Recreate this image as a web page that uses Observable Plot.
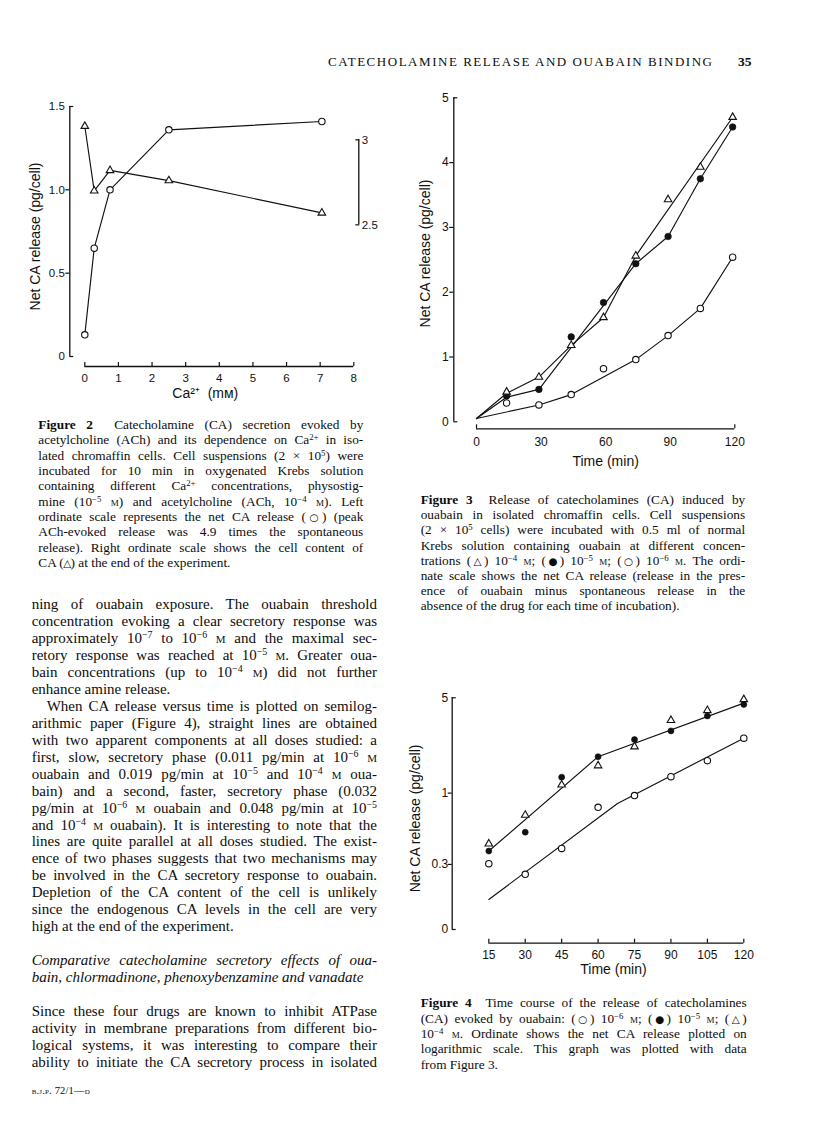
<!DOCTYPE html>
<html><head><meta charset="utf-8">
<script src="https://cdn.jsdelivr.net/npm/d3@7"></script>
<script src="https://cdn.jsdelivr.net/npm/@observablehq/plot@0.6"></script>
<style>
html,body{margin:0;padding:0;background:#fff;}
#page{position:relative;width:816px;height:1142px;overflow:hidden;background:#fff;color:#0d0d0d;font-family:"Liberation Serif","Times New Roman",serif;}
.ln{position:absolute;white-space:nowrap;}
.sc{font-variant:small-caps;}
.sym{font-family:"DejaVu Sans",sans-serif;font-size:0.78em;margin:0 -0.06em;}
sup{font-size:0.66em;line-height:0;vertical-align:0.48em;}
.fig{position:absolute;}
.fig svg{overflow:visible;}
</style></head><body><div id="page"></div>
<script>
// ---------------- Figure 2 data ----------------
const fig2Ca = [0, 0.28, 0.75, 2.5, 7.05];            // Ca2+ (mM)
const fig2Release = [0.13, 0.65, 1.0, 1.36, 1.41];     // net CA release, left scale (circles)
const fig2Content = [3.08, 2.70, 2.82, 2.76, 2.57];    // cell CA content, right scale (triangles)
const fig2XTicks = [0, 1, 2, 3, 4, 5, 6, 7, 8];
const fig2YTicks = [0, 0.5, 1.0, 1.5];
const fig2YLabels = ["0", "0.5", "1.0", "1.5"];
const fig2RightTicks = [2.5, 3];
const fig2RightLabels = ["2.5", "3"];
const fig2RightOnLeft = [0.79, 1.30];                  // left-scale level of the right ticks

// ---------------- Figure 3 data ----------------
const fig3Time = [14, 29, 44, 59, 74, 89, 104, 119];
const fig3Oua4 = [0.46, 0.69, 1.18, 1.61, 2.56, 3.43, 3.93, 4.70]; // 10^-4 M (triangles)
const fig3Oua5 = [0.40, 0.50, 1.31, 1.84, 2.44, 2.86, 3.75, 4.55]; // 10^-5 M (filled)
const fig3Oua6 = [0.29, 0.26, 0.42, 0.82, 0.96, 1.33, 1.75, 2.54]; // 10^-6 M (open)
const fig3Line4 = [[0, 0.05], [14, 0.44], [29, 0.69], [44, 1.18], [59, 1.61], [74, 2.56], [119, 4.70]];
const fig3Line5 = [[0, 0.05], [14, 0.38], [29, 0.50], [74, 2.44], [89, 2.86], [104, 3.75], [119, 4.55]];
const fig3Line6 = [[0, 0.05], [29, 0.26], [44, 0.42], [74, 0.96], [89, 1.33], [104, 1.75], [119, 2.54]];
const fig3XTicks = [0, 30, 60, 90, 120];
const fig3YTicks = [0, 1, 2, 3, 4, 5];

// ---------------- Figure 4 data ----------------
const fig4Time = [15, 30, 45, 60, 75, 90, 105, 120];
const fig4Oua4 = [0.425, 0.69, 1.15, 1.59, 2.19, 3.42, 4.04, 4.86];
const fig4Oua5 = [0.376, 0.517, 1.31, 1.85, 2.47, 2.86, 3.68, 4.47];
const fig4Oua6 = [0.304, 0.254, 0.393, 0.787, 0.96, 1.32, 1.73, 2.53];
const fig4LineHigh = [[15, 0.376], [60, 1.85], [120, 4.57]];
const fig4LineLow = [[15, 0.166], [68, 0.84], [120, 2.53]];
const fig4XTicks = [15, 30, 45, 60, 75, 90, 105, 120];
const fig4YTicks = [0.1, 0.3, 1, 5];
const fig4YLabels = ["0", "0.3", "1", "5"];

// ---------------- helpers ----------------
const page = document.getElementById("page");
const INK = "#111";
const SANS = '"Liberation Sans", Arial, Helvetica, sans-serif';
const chartStyle = {fontFamily: SANS, fontSize: "12px", color: INK, background: "transparent", overflow: "visible"};
const lab = (ticks, labels) => { const m = new Map(ticks.map((t, i) => [t, labels[i]])); return d => m.get(d) ?? String(d); };
const rows = (t, v) => t.map((x, i) => ({t: x, v: v[i]}));
const pairs = a => a.map(([t, v]) => ({t, v}));
const first = a => a[0], last = a => a[a.length - 1];
function place(svg, left, top) {
  const d = document.createElement("div");
  d.className = "fig"; d.style.left = left + "px"; d.style.top = top + "px";
  d.appendChild(svg); page.appendChild(d);
}
const openDot = {r: 3.2, fill: "white", stroke: INK, strokeWidth: 1.1};
const fullDot = {r: 3.3, fill: INK, stroke: INK, strokeWidth: 0.6};
const triDot = {symbol: "triangle", r: 2.8, fill: "white", stroke: INK, strokeWidth: 1.1};
const lineOpt = {stroke: INK, strokeWidth: 1.15};
const yTitle = (t, dx, dy) => Plot.text([t], {text: d => d, frameAnchor: "left", rotate: -90, textAnchor: "middle", lineAnchor: "middle", dx, dy, fontSize: 14});
const xTitle = (t, dx, dy) => Plot.text([t], {text: d => d, frameAnchor: "bottom", textAnchor: "middle", lineAnchor: "middle", dx, dy, fontSize: 14});

// y-axis built from Plot axis marks: outward middle ticks, inward end ticks, labels
function yAxis(ticks, labels, off, pad) {
  const ends = [first(ticks), last(ticks)];
  const mids = ticks.filter(t => !ends.includes(t));
  return [
    Plot.axisY({ticks: mids, tickSize: 4, dx: off, fill: "none", label: null, strokeWidth: 1.2}),
    Plot.axisY({ticks: ends, tickSize: -4, dx: off, fill: "none", label: null, strokeWidth: 1.2}),
    Plot.axisY({ticks, tickSize: 0, tickPadding: pad, dx: off, tickFormat: lab(ticks, labels), label: null})
  ];
}
function xAxis(ticks, tickMarks, off, pad) {
  return [
    Plot.axisX({ticks: tickMarks, tickSize: -4, dy: off, fill: "none", label: null, strokeWidth: 1.2}),
    Plot.axisX({ticks, tickSize: 0, tickPadding: pad, dy: off, label: null})
  ];
}

// ---------------- Figure 2 ----------------
const toLeft = d3.scaleLinear(fig2RightTicks, fig2RightOnLeft);
const fig2Rows = fig2Ca.map((ca, i) => ({ca, release: fig2Release[i], content: fig2Content[i]}));
const f2 = Plot.plot({
  width: 400, height: 320, marginLeft: 84.3, marginRight: 46.7, marginTop: 26, marginBottom: 44,
  x: {domain: [first(fig2XTicks), last(fig2XTicks)]},
  y: {domain: [first(fig2YTicks), last(fig2YTicks)]},
  style: {...chartStyle, fontSize: "11.5px"},
  marks: [
    Plot.ruleX([first(fig2XTicks)], {y1: first(fig2YTicks), y2: last(fig2YTicks), dx: -15, stroke: INK, strokeWidth: 1.3}),
    ...yAxis(fig2YTicks, fig2YLabels, -15, 5),
    Plot.ruleY([first(fig2YTicks)], {x1: first(fig2XTicks), x2: last(fig2XTicks), dy: 10, stroke: INK, strokeWidth: 1.3}),
    ...xAxis(fig2XTicks, fig2XTicks, 10, 7),
    // right ordinate (cell CA content)
    Plot.ruleX([last(fig2XTicks)], {y1: toLeft(first(fig2RightTicks)), y2: toLeft(last(fig2RightTicks)), dx: 5, stroke: INK, strokeWidth: 1.3}),
    Plot.axisY({anchor: "right", ticks: fig2RightTicks.map(toLeft), tickSize: -4, dx: 5, fill: "none", label: null, strokeWidth: 1.2}),
    Plot.axisY({anchor: "right", ticks: fig2RightTicks.map(toLeft), tickSize: 0, tickPadding: 3, dx: 5,
      tickFormat: lab(fig2RightTicks.map(toLeft), fig2RightLabels), label: null}),
    Plot.line(fig2Rows, {x: "ca", y: "release", ...lineOpt}),
    Plot.line(fig2Rows, {x: "ca", y: d => toLeft(d.content), ...lineOpt}),
    Plot.dot(fig2Rows, {x: "ca", y: "release", ...openDot}),
    Plot.dot(fig2Rows, {x: "ca", y: d => toLeft(d.content), ...triDot}),
    yTitle("Net CA release (pg/cell)", -49.3, 5),
    xTitle("Ca²⁺  (mᴍ)", -14, 37)
  ]
});
place(f2, 0, 80);

// ---------------- Figure 3 ----------------
const f3 = Plot.plot({
  width: 400, height: 400, marginLeft: 76, marginRight: 65.7, marginTop: 17.3, marginBottom: 58.7,
  x: {domain: [first(fig3XTicks), last(fig3XTicks)]},
  y: {domain: [first(fig3YTicks), last(fig3YTicks)]},
  style: chartStyle,
  marks: [
    Plot.ruleX([first(fig3XTicks)], {y1: first(fig3YTicks), y2: last(fig3YTicks), dx: -22.7, stroke: INK, strokeWidth: 1.3}),
    ...yAxis(fig3YTicks, fig3YTicks.map(String), -22.7, 5),
    Plot.ruleY([first(fig3YTicks)], {x1: first(fig3XTicks), x2: last(fig3XTicks), dy: 7, stroke: INK, strokeWidth: 1.3}),
    ...xAxis(fig3XTicks, [first(fig3XTicks), last(fig3XTicks)], 7, 9),
    Plot.line(pairs(fig3Line4), {x: "t", y: "v", ...lineOpt}),
    Plot.line(pairs(fig3Line5), {x: "t", y: "v", ...lineOpt}),
    Plot.line(pairs(fig3Line6), {x: "t", y: "v", ...lineOpt}),
    Plot.dot(rows(fig3Time, fig3Oua6), {x: "t", y: "v", ...openDot}),
    Plot.dot(rows(fig3Time, fig3Oua5), {x: "t", y: "v", ...fullDot}),
    Plot.dot(rows(fig3Time, fig3Oua4), {x: "t", y: "v", ...triDot}),
    yTitle("Net CA release (pg/cell)", -51, -6.3),
    xTitle("Time (min)", 0, 39.7)
  ]
});
place(f3, 400, 80);

// ---------------- Figure 4 ----------------
const f4 = Plot.plot({
  width: 400, height: 300, marginLeft: 88.3, marginRight: 56.7, marginTop: 17.3, marginBottom: 51,
  x: {domain: [first(fig4XTicks), last(fig4XTicks)]},
  y: {type: "log", domain: [first(fig4YTicks), last(fig4YTicks)]},
  style: chartStyle,
  marks: [
    Plot.ruleX([first(fig4XTicks)], {y1: first(fig4YTicks), y2: last(fig4YTicks), dx: -36.6, stroke: INK, strokeWidth: 1.3}),
    ...yAxis(fig4YTicks, fig4YLabels, -36.6, 4),
    Plot.ruleY([first(fig4YTicks)], {x1: first(fig4XTicks), x2: last(fig4XTicks), dy: 13.7, stroke: INK, strokeWidth: 1.3}),
    ...xAxis(fig4XTicks, fig4XTicks, 13.7, 7),
    Plot.line(pairs(fig4LineHigh), {x: "t", y: "v", ...lineOpt}),
    Plot.line(pairs(fig4LineLow), {x: "t", y: "v", ...lineOpt}),
    Plot.dot(rows(fig4Time, fig4Oua6), {x: "t", y: "v", ...openDot}),
    Plot.dot(rows(fig4Time, fig4Oua5), {x: "t", y: "v", ...fullDot, r: 3}),
    Plot.dot(rows(fig4Time, fig4Oua4), {x: "t", y: "v", ...triDot}),
    yTitle("Net CA release (pg/cell)", -73.3, 4.8),
    xTitle("Time (min)", -2.8, 40)
  ]
});
place(f4, 400, 680);

// ---------------- page text ----------------
const M = '<span class="sc">m</span>';
const p = n => `10<sup>−${n}</sup>`;
const OC = '<span class="sym">○</span>', FC = '<span class="sym">●</span>', TR = '<span class="sym">△</span>';
function line(html, x, yc, w, {size, lh, justify = true, cls = "", fit = false, indent = 0}) {
  const d = document.createElement("div");
  d.className = "ln " + cls;
  d.style.left = (x + indent) + "px";
  d.style.top = (yc - lh / 2 - 0.04 * size) + "px";
  d.style.fontSize = size + "px";
  d.style.lineHeight = lh + "px";
  d.innerHTML = html;
  page.appendChild(d);
  const W = w - indent;
  d.style.width = "max-content";
  const nat = d.getBoundingClientRect().width;
  const n = Math.max(1, d.textContent.length - 1);
  if (fit || nat > W) d.style.letterSpacing = ((W - nat - (fit ? 0 : 1)) / n) + "px";
  if (justify) {
    d.style.width = W + "px";
    d.style.whiteSpace = "normal";
    d.style.textAlign = "justify";
    d.style.textAlignLast = "justify";
  }
  return d;
}

// running head
line("CATECHOLAMINE RELEASE AND OUABAIN BINDING", 328, 61.7, 384, {size: 13, lh: 15, justify: false, fit: true});
line("<b>35</b>", 738, 61.7, 15, {size: 13.5, lh: 15, justify: false});

// captions
const cap2 = [
  `<b>Figure 2</b>&nbsp; Catecholamine (CA) secretion evoked by`,
  `acetylcholine (ACh) and its dependence on Ca<sup>2+</sup> in iso-`,
  `lated chromaffin cells. Cell suspensions (2 × 10<sup>5</sup>) were`,
  `incubated for 10 min in oxygenated Krebs solution`,
  `containing different Ca<sup>2+</sup> concentrations, physostig-`,
  `mine (${p(5)} ${M}) and acetylcholine (ACh, ${p(4)} ${M}). Left`,
  `ordinate scale represents the net CA release (${OC}) (peak`,
  `ACh-evoked release was 4.9 times the spontaneous`,
  `release). Right ordinate scale shows the cell content of`,
  `CA (${TR}) at the end of the experiment.`
];
const cap3 = [
  `<b>Figure 3</b>&nbsp; Release of catecholamines (CA) induced by`,
  `ouabain in isolated chromaffin cells. Cell suspensions`,
  `(2 × 10<sup>5</sup> cells) were incubated with 0.5 ml of normal`,
  `Krebs solution containing ouabain at different concen-`,
  `trations (${TR}) ${p(4)} ${M}; (${FC}) ${p(5)} ${M}; (${OC}) ${p(6)} ${M}. The ordi-`,
  `nate scale shows the net CA release (release in the pres-`,
  `ence of ouabain minus spontaneous release in the`,
  `absence of the drug for each time of incubation).`
];
const cap4 = [
  `<b>Figure 4</b>&nbsp; Time course of the release of catecholamines`,
  `(CA) evoked by ouabain: (${OC}) ${p(6)} ${M}; (${FC}) ${p(5)} ${M}; (${TR})`,
  `${p(4)} ${M}. Ordinate shows the net CA release plotted on`,
  `logarithmic scale. This graph was plotted with data`,
  `from Figure 3.`
];
const capOpt = {size: 13.3, lh: 15.3};
cap2.forEach((h, i) => line(h, 38.3, 425 + 15.37 * i, 325, {...capOpt, justify: i < cap2.length - 1}));
cap3.forEach((h, i) => line(h, 420.7, 500 + 15.24 * i, 324.5, {...capOpt, justify: i < cap3.length - 1}));
cap4.forEach((h, i) => line(h, 420.7, 1003.3 + 15.4 * i, 326, {...capOpt, justify: i < cap4.length - 1}));

// body text, left column
const body = [
  ["ning of ouabain exposure. The ouabain threshold"],
  ["concentration evoking a clear secretory response was"],
  [`approximately ${p(7)} to ${p(6)} ${M} and the maximal sec-`],
  [`retory response was reached at ${p(5)} ${M}. Greater oua-`],
  [`bain concentrations (up to ${p(4)} ${M}) did not further`],
  ["enhance amine release.", "last"],
  ["When CA release versus time is plotted on semilog-", "indent"],
  ["arithmic paper (Figure 4), straight lines are obtained"],
  ["with two apparent components at all doses studied: a"],
  [`first, slow, secretory phase (0.011 pg/min at ${p(6)} ${M}`],
  [`ouabain and 0.019 pg/min at ${p(5)} and ${p(4)} ${M} oua-`],
  ["bain) and a second, faster, secretory phase (0.032"],
  [`pg/min at ${p(6)} ${M} ouabain and 0.048 pg/min at ${p(5)}`],
  [`and ${p(4)} ${M} ouabain). It is interesting to note that the`],
  ["lines are quite parallel at all doses studied. The exist-"],
  ["ence of two phases suggests that two mechanisms may"],
  ["be involved in the CA secretory response to ouabain."],
  ["Depletion of the CA content of the cell is unlikely"],
  ["since the endogenous CA levels in the cell are very"],
  ["high at the end of the experiment.", "last"],
  null,
  ["<i>Comparative catecholamine secretory effects of oua-</i>"],
  ["<i>bain, chlormadinone, phenoxybenzamine and vanadate</i>", "last"],
  null,
  ["Since these four drugs are known to inhibit ATPase"],
  ["activity in membrane preparations from different bio-"],
  ["logical systems, it was interesting to compare their"],
  ["ability to initiate the CA secretory process in isolated"]
];
body.forEach((b, i) => {
  if (!b) return;
  line(b[0], 31.7, 605 + 16.97 * i, 345.3, {size: 15, lh: 17, justify: b[1] !== "last", indent: b[1] === "indent" ? 15 : 0});
});

// folio
line('<span class="sc">b.j.p.</span> 72/1—<span class="sc">d</span>', 31.7, 1091, 58, {size: 10.5, lh: 12, justify: false, fit: true});
</script></body></html>
